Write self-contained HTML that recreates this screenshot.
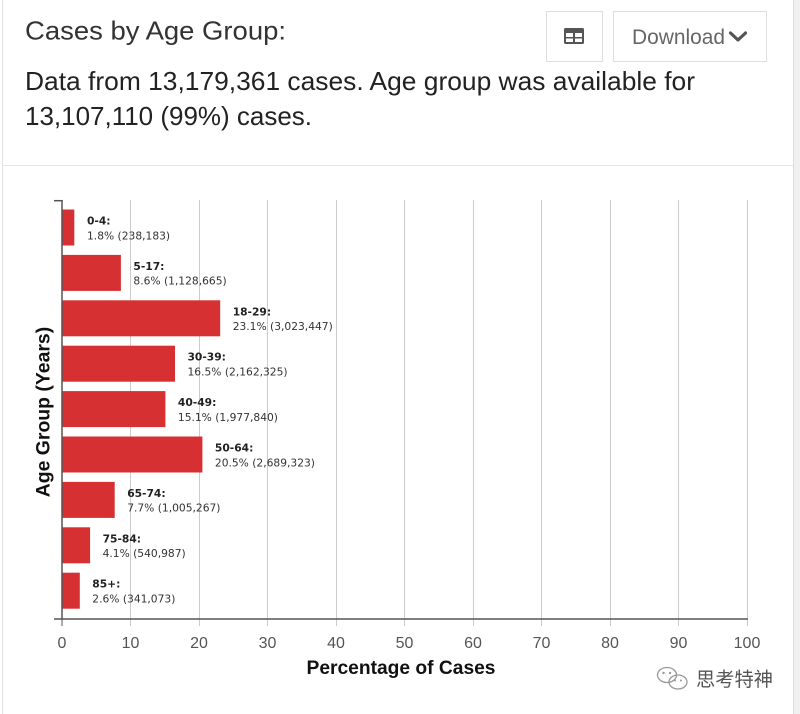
<!DOCTYPE html>
<html>
<head>
<meta charset="utf-8">
<style>
  html, body { margin:0; padding:0; background:#fff; }
  body { width:800px; height:714px; overflow:hidden; position:relative; }
  svg { display:block; }
</style>
</head>
<body>
<svg width="800" height="714" viewBox="0 0 800 714" xmlns="http://www.w3.org/2000/svg">
  <rect x="0" y="0" width="800" height="714" fill="#ffffff"/>
  <!-- right grey strip -->
  <rect x="794" y="0" width="6" height="714" fill="#f0f0f0"/>
  <!-- card borders -->
  <line x1="2.5" y1="0" x2="2.5" y2="714" stroke="#e2e2e2" stroke-width="1"/>
  <line x1="793.5" y1="0" x2="793.5" y2="714" stroke="#dcdcdc" stroke-width="1"/>
  <line x1="3" y1="165.5" x2="793" y2="165.5" stroke="#e6e6e6" stroke-width="1"/>

  <!-- header -->
  <text x="25" y="39.5" font-family="Liberation Sans, sans-serif" font-size="26" fill="#333" textLength="261" lengthAdjust="spacingAndGlyphs">Cases by Age Group:</text>
  <text x="25" y="90" font-family="Liberation Sans, sans-serif" font-size="26" fill="#222" textLength="670" lengthAdjust="spacingAndGlyphs">Data from 13,179,361 cases. Age group was available for</text>
  <text x="25" y="125" font-family="Liberation Sans, sans-serif" font-size="26" fill="#222" textLength="287" lengthAdjust="spacingAndGlyphs">13,107,110 (99%) cases.</text>

  <!-- table button -->
  <rect x="546.5" y="11.5" width="56" height="50" fill="#fff" stroke="#dedede" stroke-width="1"/>
  <rect x="564" y="28" width="20" height="16" rx="1.5" fill="#555"/>
  <rect x="566" y="33" width="7" height="4" fill="#fff"/>
  <rect x="575" y="33" width="7" height="4" fill="#fff"/>
  <rect x="566" y="38.5" width="7" height="3.5" fill="#fff"/>
  <rect x="575" y="38.5" width="7" height="3.5" fill="#fff"/>

  <!-- download button -->
  <rect x="613.5" y="11.5" width="153" height="50" fill="#fff" stroke="#dedede" stroke-width="1"/>
  <text x="632" y="44" font-family="Liberation Sans, sans-serif" font-size="21" fill="#666" textLength="93" lengthAdjust="spacingAndGlyphs">Download</text>
  <polyline points="730.5,33 738,40 745.5,33" fill="none" stroke="#555" stroke-width="3.2" stroke-linecap="round" stroke-linejoin="round"/>

  <!-- gridlines -->
  <g stroke="#cccccc" stroke-width="1">
    <line x1="130.5" y1="200" x2="130.5" y2="626"/>
    <line x1="199.5" y1="200" x2="199.5" y2="626"/>
    <line x1="267.5" y1="200" x2="267.5" y2="626"/>
    <line x1="336.5" y1="200" x2="336.5" y2="626"/>
    <line x1="404.5" y1="200" x2="404.5" y2="626"/>
    <line x1="473.5" y1="200" x2="473.5" y2="626"/>
    <line x1="541.5" y1="200" x2="541.5" y2="626"/>
    <line x1="610.5" y1="200" x2="610.5" y2="626"/>
    <line x1="678.5" y1="200" x2="678.5" y2="626"/>
    <line x1="747.5" y1="200" x2="747.5" y2="626"/>
  </g>
  <line x1="62" y1="619" x2="62" y2="626" stroke="#555" stroke-width="1"/>

  <!-- bars -->
  <g fill="#d63032">
    <rect x="62" y="209.5" width="12.3" height="36"/>
    <rect x="62" y="254.9" width="58.9" height="36"/>
    <rect x="62" y="300.3" width="158.2" height="36"/>
    <rect x="62" y="345.7" width="113.0" height="36"/>
    <rect x="62" y="391.1" width="103.4" height="36"/>
    <rect x="62" y="436.5" width="140.4" height="36"/>
    <rect x="62" y="481.9" width="52.7" height="36"/>
    <rect x="62" y="527.3" width="28.1" height="36"/>
    <rect x="62" y="572.7" width="17.8" height="36"/>
  </g>

  <!-- axes -->
  <line x1="62" y1="200" x2="62" y2="619" stroke="#555" stroke-width="1.5"/>
  <line x1="54" y1="200.7" x2="62.7" y2="200.7" stroke="#555" stroke-width="1.5"/>
  <line x1="54" y1="619" x2="748" y2="619" stroke="#555" stroke-width="1.6"/>

  <!-- bar labels -->
  <g font-family="DejaVu Sans, sans-serif" font-size="10.7">
    <text x="87" y="224.5" font-weight="bold" fill="#222">0-4:</text>
    <text x="87" y="239.3" fill="#333">1.8% (238,183)</text>

    <text x="133.4" y="269.9" font-weight="bold" fill="#222">5-17:</text>
    <text x="133.4" y="284.7" fill="#333">8.6% (1,128,665)</text>

    <text x="232.7" y="315.3" font-weight="bold" fill="#222">18-29:</text>
    <text x="232.7" y="330.1" fill="#333">23.1% (3,023,447)</text>

    <text x="187.5" y="360.7" font-weight="bold" fill="#222">30-39:</text>
    <text x="187.5" y="375.5" fill="#333">16.5% (2,162,325)</text>

    <text x="177.9" y="406.1" font-weight="bold" fill="#222">40-49:</text>
    <text x="177.9" y="420.9" fill="#333">15.1% (1,977,840)</text>

    <text x="214.9" y="451.5" font-weight="bold" fill="#222">50-64:</text>
    <text x="214.9" y="466.3" fill="#333">20.5% (2,689,323)</text>

    <text x="127.2" y="496.9" font-weight="bold" fill="#222">65-74:</text>
    <text x="127.2" y="511.7" fill="#333">7.7% (1,005,267)</text>

    <text x="102.6" y="542.3" font-weight="bold" fill="#222">75-84:</text>
    <text x="102.6" y="557.1" fill="#333">4.1% (540,987)</text>

    <text x="92.3" y="587.7" font-weight="bold" fill="#222">85+:</text>
    <text x="92.3" y="602.5" fill="#333">2.6% (341,073)</text>
  </g>

  <!-- tick labels -->
  <g font-family="Liberation Sans, sans-serif" font-size="16" fill="#555" text-anchor="middle">
    <text x="62" y="648">0</text>
    <text x="130.5" y="648">10</text>
    <text x="199" y="648">20</text>
    <text x="267.5" y="648">30</text>
    <text x="336" y="648">40</text>
    <text x="404.5" y="648">50</text>
    <text x="473" y="648">60</text>
    <text x="541.5" y="648">70</text>
    <text x="610" y="648">80</text>
    <text x="678.5" y="648">90</text>
    <text x="747" y="648">100</text>
  </g>

  <!-- axis titles -->
  <text x="306.5" y="674" font-family="Liberation Sans, sans-serif" font-size="19.5" font-weight="bold" fill="#111" textLength="189" lengthAdjust="spacingAndGlyphs">Percentage of Cases</text>
  <text transform="translate(49.5,497.3) rotate(-90)" x="0" y="0" font-family="Liberation Sans, sans-serif" font-size="19.5" font-weight="bold" fill="#111" textLength="170.5" lengthAdjust="spacingAndGlyphs">Age Group (Years)</text>

  <!-- watermark -->
  <g fill="none" stroke="#9a9a9a" stroke-width="1.3">
    <ellipse cx="667" cy="675" rx="9.5" ry="7.5"/>
    <ellipse cx="678" cy="682" rx="9" ry="7"/>
  </g>
  <g fill="#9a9a9a">
    <circle cx="663.5" cy="673" r="1.2"/>
    <circle cx="670" cy="673" r="1.2"/>
    <circle cx="675" cy="680.5" r="1"/>
    <circle cx="681" cy="680.5" r="1"/>
  </g>
  <text x="696" y="686" font-family="Liberation Sans, 'Noto Sans CJK SC', sans-serif" font-size="19.5" fill="#555" textLength="77" lengthAdjust="spacingAndGlyphs">思考特神</text>
</svg>
</body>
</html>
